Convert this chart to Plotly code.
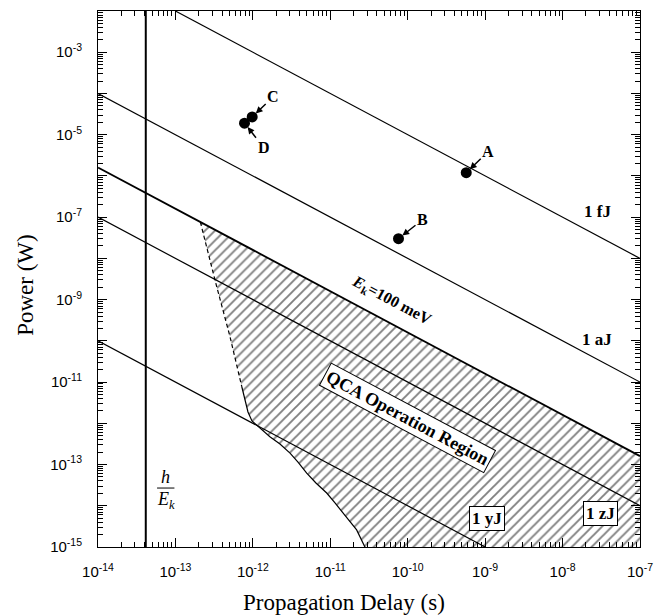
import numpy as np
import plotly.graph_objects as go

# ---------------- data ----------------
# iso-energy lines: endpoints (delay s, power W)
fJ_delay = [1e-13, 1e-7]
fJ_power = [1e-2, 1e-8]
aJ_delay = [1e-14, 1e-7]
aJ_power = [1e-4, 1e-11]
Ek_delay = [1e-14, 1e-7]
Ek_power = [1.6e-6, 1.6e-13]
zJ_delay = [1e-14, 1e-7]
zJ_power = [1e-7, 1e-14]
yJ_delay = [1e-14, 1e-9]
yJ_power = [1e-10, 1e-15]
hEk_delay = [4.14e-14, 4.14e-14]
hEk_power = [1e-15, 1e-2]

# QCA operation region boundaries
region_top_delay = [2.1e-13, 1e-7, 1e-7]
region_top_power = [7.6e-8, 1.6e-13, 1e-15]
dashed_delay = [2.1e-13, 3.24e-13, 5.07e-13, 7.2e-13]
dashed_power = [7.6e-8, 2.99e-9, 1.26e-10, 7.7e-12]
lower_delay = [7.2e-13, 7.9e-13, 8.65e-13, 9.74e-13, 1.24e-12, 1.66e-12, 2.24e-12,
               3.02e-12, 3.83e-12, 4.96e-12, 6.53e-12, 8.99e-12, 1.15e-11, 1.46e-11,
               1.80e-11, 2.19e-11, 2.8e-11]
lower_power = [7.7e-12, 3.67e-12, 1.88e-12, 1.14e-12, 7.7e-13, 4.73e-13, 3.15e-13,
               1.9e-13, 1.15e-13, 6.2e-14, 3.56e-14, 2.04e-14, 1.17e-14, 6.7e-15,
               4.0e-15, 2.6e-15, 1e-15]

# device points
point_names = ["A", "B", "C", "D"]
point_delay = [5.7e-10, 7.6e-11, 9.8e-13, 7.8e-13]
point_power = [1.2e-6, 3.0e-8, 2.7e-5, 1.9e-5]

x_tick_exps = [-14, -13, -12, -11, -10, -9, -8, -7]
y_tick_exps = list(range(-15, -1))

# ---------------- figure ----------------
BLACK = "black"
SERIF = "Liberation Serif"
SANS = "Liberation Sans"

fig = go.Figure()

poly_x = region_top_delay + lower_delay[::-1] + dashed_delay[::-1][1:]
poly_y = region_top_power + lower_power[::-1] + dashed_power[::-1][1:]
fig.add_trace(go.Scatter(
    x=poly_x, y=poly_y, mode="none", fill="toself",
    fillcolor="white",
    fillpattern=dict(shape="/", fgcolor=BLACK, bgcolor="white", size=7, solidity=0.27),
    hoverinfo="skip", showlegend=False))

def line(x, y, width=1.2, dash="solid"):
    fig.add_trace(go.Scatter(x=x, y=y, mode="lines",
                             line=dict(color=BLACK, width=width, dash=dash),
                             showlegend=False, hoverinfo="skip"))

line(fJ_delay, fJ_power)
line(aJ_delay, aJ_power)
line(Ek_delay, Ek_power, width=1.8)
line(zJ_delay, zJ_power)
line(yJ_delay, yJ_power)
line(hEk_delay, hEk_power, width=2)
line(dashed_delay, dashed_power, dash="4px,3px")
line(lower_delay, lower_power)

fig.add_trace(go.Scatter(x=point_delay, y=point_power, mode="markers",
                         marker=dict(color=BLACK, size=11),
                         showlegend=False, hoverinfo="skip"))

# empty trace so the overlay axes (minor ticks) are drawn
fig.add_trace(go.Scatter(x=[], y=[], xaxis="x2", yaxis="y2", showlegend=False,
                         hoverinfo="skip"))

annotations = []
offsets = {"A": (22, -21), "B": (24, -19), "C": (21, -20), "D": (19, 24)}
for n, xd, yd in zip(point_names, point_delay, point_power):
    ax, ay = offsets[n]
    annotations.append(dict(
        x=np.log10(xd), y=np.log10(yd), xref="x", yref="y",
        text=f"<b>{n}</b>", showarrow=True, ax=ax, ay=ay,
        arrowhead=2, arrowsize=0.9, arrowwidth=1.5, arrowcolor=BLACK,
        standoff=5, font=dict(family=SERIF, size=16, color=BLACK)))

def label(xv, yv, text, angle=0, box=False, size=16):
    d = dict(x=np.log10(xv), y=np.log10(yv), xref="x", yref="y", text=text,
             showarrow=False, textangle=angle, xanchor="center", yanchor="middle",
             font=dict(family=SERIF, size=size, color=BLACK))
    if box:
        d.update(bgcolor="white", bordercolor=BLACK, borderwidth=1, borderpad=2)
    annotations.append(d)

label(2.8e-8, 1.4e-7, "<b>1 fJ</b>", size=17)
label(2.8e-8, 1.1e-10, "<b>1 aJ</b>", size=17)
label(6.1e-11, 9.5e-10, "<b><i>E</i><sub>k</sub>=100 meV</b>", angle=28, size=16)
label(1.0e-10, 1.35e-12, "<b>QCA Operation Region</b>", angle=28, box=True, size=18)
label(1.07e-9, 5.0e-15, "<b>1 yJ</b>", box=True, size=17)
label(3.1e-8, 6.6e-15, "<b>1 zJ</b>", box=True, size=17)
label(7.5e-14, 5.0e-14, "<i>h</i>", size=18)
label(7.5e-14, 1.35e-14, "<i>E</i><sub><i>k</i></sub>", size=18)

# axis titles
annotations.append(dict(x=0.454, y=-0.104, xref="paper", yref="paper",
                        xanchor="center", yanchor="middle",
                        text="Propagation Delay (s)", showarrow=False,
                        font=dict(family=SERIF, size=23, color=BLACK)))
annotations.append(dict(x=-0.133, y=0.489, xref="paper", yref="paper",
                        xanchor="center", yanchor="middle",
                        text="Power (W)", showarrow=False, textangle=-90,
                        font=dict(family=SERIF, size=23, color=BLACK)))

shapes = [dict(type="line", xref="paper", yref="paper", x0=0.109, x1=0.141,
               y0=0.110, y1=0.110, line=dict(color=BLACK, width=1))]

def minor_vals(lo, hi):
    return [k * 10.0 ** e for e in range(lo, hi) for k in range(2, 10)]

axis_common = dict(type="log", showline=True, linecolor=BLACK, linewidth=1,
                   mirror="ticks", ticks="inside", ticklen=9, tickcolor=BLACK,
                   tickwidth=1.3, showgrid=False, zeroline=False, automargin=False,
                   layer="above traces",
                   tickfont=dict(family=SANS, size=15, color=BLACK))

minor_common = dict(type="log", showline=False, mirror="ticks", ticks="inside",
                    ticklen=5, tickcolor=BLACK, tickwidth=1.1, showgrid=False,
                    zeroline=False, automargin=False, showticklabels=False,
                    layer="above traces", tickmode="array")

# page body has an 8px margin: shrink the figure so the plot area lands where
# the reference's does
fig.update_layout(
    width=654, height=608,
    margin=dict(l=90, r=22, t=3, b=69, autoexpand=False),
    plot_bgcolor="white", paper_bgcolor="white",
    xaxis=dict(range=[-14, -7], tickmode="array",
               tickvals=[10.0 ** e for e in x_tick_exps],
               ticktext=[f"10<sup>{e}</sup>" for e in x_tick_exps],
               ticklabelstandoff=11,
               **axis_common),
    yaxis=dict(range=[-15, -2], tickmode="array",
               tickvals=[10.0 ** e for e in y_tick_exps],
               ticktext=[f"10<sup>{e}</sup>" if e % 2 else "" for e in y_tick_exps],
               ticklabelstandoff=12,
               **axis_common),
    xaxis2=dict(range=[-14, -7], overlaying="x", anchor="y2", side="bottom",
                tickvals=minor_vals(-14, -7), **minor_common),
    yaxis2=dict(range=[-15, -2], overlaying="y", anchor="x2", side="left",
                tickvals=minor_vals(-15, -2), **minor_common),
    annotations=annotations,
    shapes=shapes,
    showlegend=False,
)

fig.write_html("out.html")
